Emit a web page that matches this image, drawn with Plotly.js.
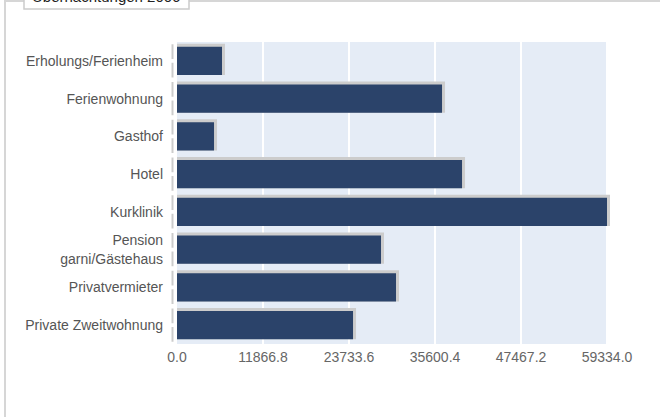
<!DOCTYPE html>
<html>
<head>
<meta charset="utf-8">
<script src="https://cdn.plot.ly/plotly-3.0.1.min.js"></script>
<style>html,body{margin:0;padding:0;background:#fff;}#chart{width:660px;height:417px;}</style>
</head>
<body>
<div id="chart"></div>
<script>
var categories = ["Erholungs/Ferienheim","Ferienwohnung","Gasthof","Hotel","Kurklinik","Pension<br>garni/Gästehaus","Privatvermieter","Private Zweitwohnung"];
var values = [6210, 36570, 5110, 39330, 59334, 28150, 30220, 24290];
var tickVals = [0, 11866.8, 23733.6, 35600.4, 47467.2, 59334.0];
var tickLabels = ["0.0","11866.8","23733.6","35600.4","47467.2","59334.0"];
var titleText = "Übernachtungen 2006";

var W = 660, H = 417;
var L = 177, T = 42, B = 73;
var bgW = 430;                      // visible plot background width (px)
var extra = 6;                      // room for bars running past the range end
var R = W - L - bgW - extra;
var pw = bgW + extra, ph = H - T - B;
var xMax = tickVals[tickVals.length - 1];
var pxX = xMax / bgW;               // data units per px along x
var catPx = ph / categories.length; // px per category
var barW = 0.75;
var sh = 3;                         // shadow offset px
var shW = barW + sh / catPx;

var shadow = {
  type: 'bar', orientation: 'h', y: categories,
  x: values.map(function(v){ return v + sh * pxX; }),
  width: shW, offset: barW / 2 - shW,
  marker: {color: '#cccccc', line: {width: 0}},
  hoverinfo: 'skip', showlegend: false
};
var bars = {
  type: 'bar', orientation: 'h', y: categories, x: values,
  width: barW,
  marker: {color: '#2b436a', line: {width: 0}},
  showlegend: false
};

var shapes = [];
function px2paperX(p){ return (p - L) / pw; }
function px2paperY(p){ return (H - B - p) / ph; }
// plot background (only up to the range end)
shapes.push({type:'rect', xref:'x', yref:'paper', layer:'below',
  x0: 0, x1: xMax, y0: 0, y1: 1, line:{width:0}, fillcolor:'#e5ecf6'});
// outer frame
shapes.push({type:'rect', xref:'paper', yref:'paper', layer:'below',
  x0: px2paperX(5), x1: px2paperX(720), y0: px2paperY(470), y1: px2paperY(1),
  line:{color:'#d6d6d6', width:2}, fillcolor:'rgba(0,0,0,0)'});
// title box
shapes.push({type:'rect', xref:'paper', yref:'paper', layer:'above',
  x0: px2paperX(24), x1: px2paperX(189), y0: px2paperY(9), y1: px2paperY(-20),
  line:{color:'#cccccc', width:1.5}, fillcolor:'#ffffff'});
// broken y axis line segments
var axX = px2paperX(172.5);
for (var i = 0; i < categories.length; i++) {
  [[i - 0.44, i - 0.05], [i + 0.05, i + 0.44]].forEach(function(seg){
    shapes.push({type:'line', xref:'paper', yref:'y', x0: axX, x1: axX, y0: seg[0], y1: seg[1],
      line:{color:'#cccccc', width:2}});
  });
}

var layout = {
  width: W, height: H,
  margin: {l: L, r: R, t: T, b: B, pad: 0},
  paper_bgcolor: '#ffffff', plot_bgcolor: 'rgba(0,0,0,0)',
  barmode: 'overlay',
  font: {family: 'Liberation Sans, Arial, sans-serif', size: 14, color: '#555'},
  xaxis: {range: [0, xMax + extra * pxX], tickmode: 'array', tickvals: tickVals, ticktext: tickLabels,
    showgrid: true, gridcolor: '#ffffff', gridwidth: 2, zeroline: false, showline: false,
    ticks: '', ticklabelstandoff: 3, tickfont: {color: '#666', size: 14}, fixedrange: true},
  yaxis: {type: 'category', autorange: 'reversed', showgrid: false, zeroline: false, showline: false,
    ticks: '', ticklabelstandoff: 13, tickfont: {color: '#555', size: 14}, fixedrange: true},
  shapes: shapes,
  annotations: [{text: titleText, xref: 'paper', yref: 'paper', x: px2paperX(106), y: px2paperY(7),
    xanchor: 'center', yanchor: 'bottom', showarrow: false,
    font: {family: 'Liberation Sans, Arial, sans-serif', size: 15, color: '#222'}}]
};

Plotly.newPlot('chart', [shadow, bars], layout, {staticPlot: true, displayModeBar: false});
</script>
</body>
</html>
